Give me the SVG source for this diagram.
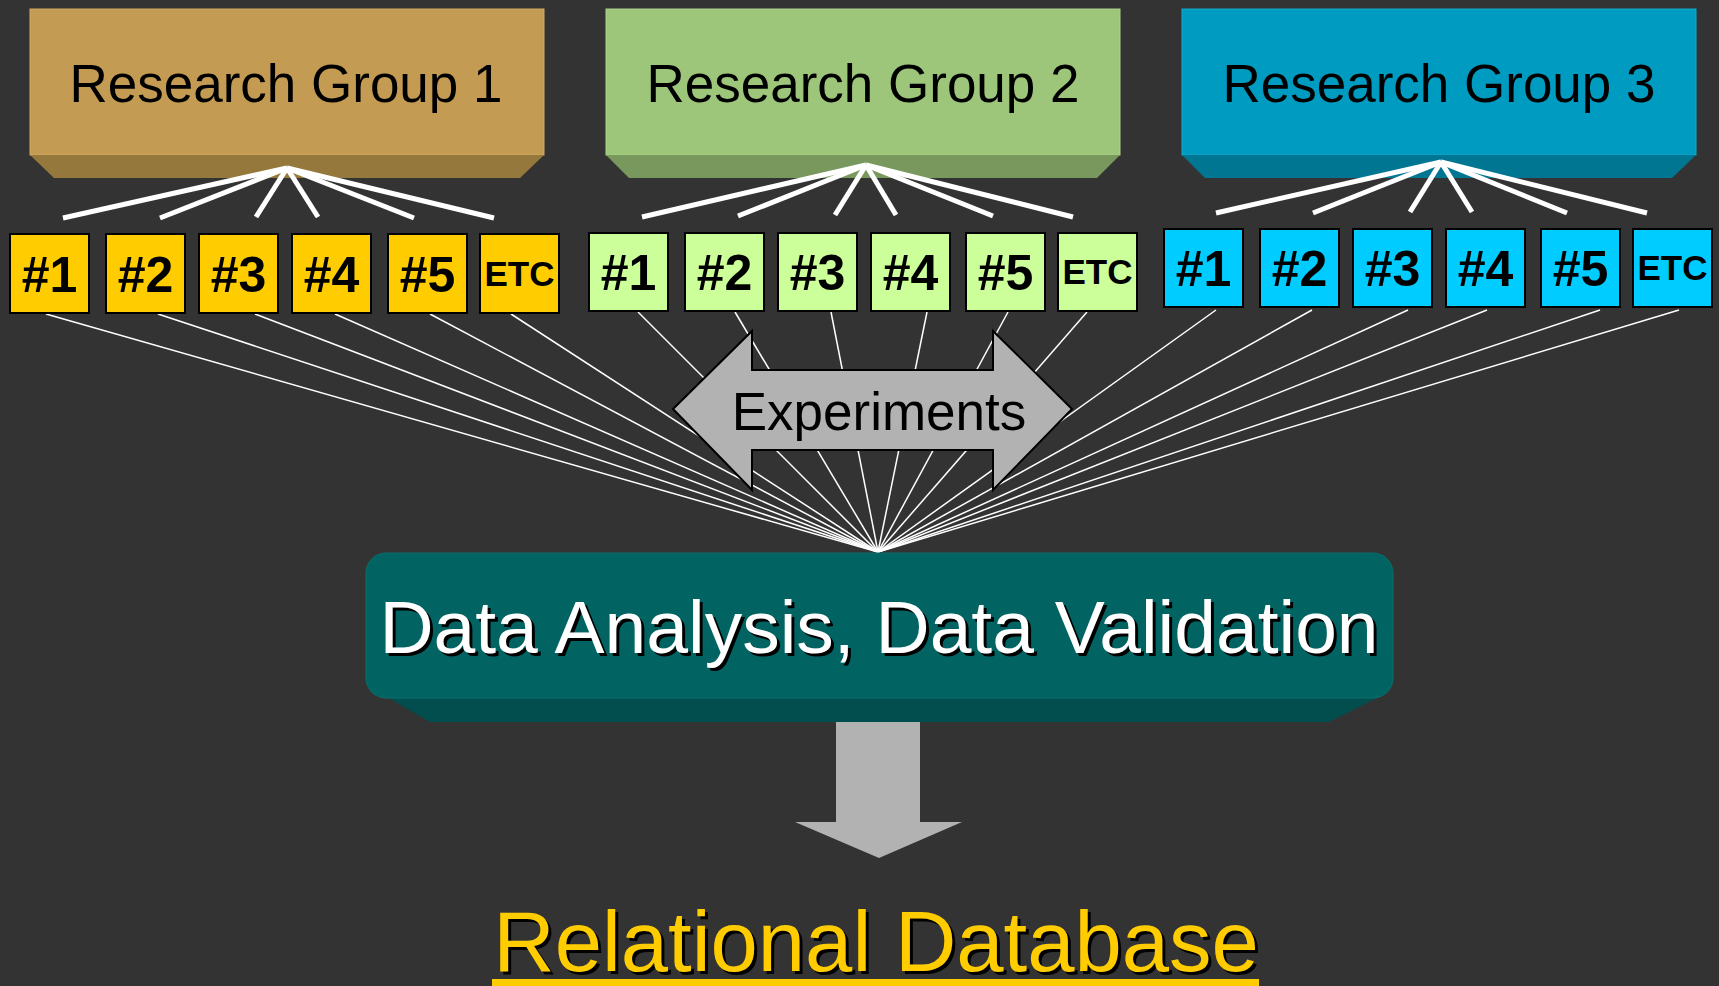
<svg xmlns="http://www.w3.org/2000/svg" width="1719" height="986" viewBox="0 0 1719 986">
<defs>
<style>
text{font-family:"Liberation Sans",Arial,sans-serif;}
.rgt{font-size:53px;fill:#000;text-anchor:middle;}
.num{font-size:50px;font-weight:bold;fill:#000;text-anchor:middle;}
.etc{font-size:35px;font-weight:bold;fill:#000;text-anchor:middle;}
.sb{stroke:#000;stroke-width:2;}
.y{fill:#FFCC00;}
.g{fill:#CCFF99;}
.c{fill:#00CCFF;}
.thick line{stroke:#fff;stroke-width:5;}
.thin line{stroke:#fff;stroke-width:1.5;}
.grey{fill:#B2B2B2;}
</style>
</defs>
<rect x="0" y="0" width="1719" height="986" fill="#333333"/>

<g id="connectors">
<g class="thin">
<line x1="46" y1="314" x2="878" y2="552"/>
<line x1="158" y1="314" x2="878" y2="552"/>
<line x1="255" y1="314" x2="878" y2="552"/>
<line x1="335" y1="314" x2="878" y2="552"/>
<line x1="430" y1="314" x2="878" y2="552"/>
<line x1="511" y1="314" x2="878" y2="552"/>
<line x1="638" y1="312" x2="878" y2="552"/>
<line x1="735" y1="312" x2="878" y2="552"/>
<line x1="831" y1="312" x2="878" y2="552"/>
<line x1="927" y1="312" x2="878" y2="552"/>
<line x1="1008" y1="312" x2="878" y2="552"/>
<line x1="1087" y1="312" x2="878" y2="552"/>
<line x1="1216" y1="310" x2="878" y2="552"/>
<line x1="1312" y1="310" x2="878" y2="552"/>
<line x1="1408" y1="310" x2="878" y2="552"/>
<line x1="1487" y1="310" x2="878" y2="552"/>
<line x1="1600" y1="310" x2="878" y2="552"/>
<line x1="1679" y1="310" x2="878" y2="552"/>
</g>
</g>

<g id="rg1">
<rect x="30" y="9" width="514" height="146" fill="#C49B52" stroke="#D2AA62" stroke-width="1"/>
<polygon points="30,155 544,155 520,178 54,178" fill="#95783C"/>
<text class="rgt" x="286" y="102">Research Group 1</text>
</g>
<g id="rg2">
<rect x="606" y="9" width="514" height="146" fill="#9DC67B" stroke="#ABD289" stroke-width="1"/>
<polygon points="606,155 1120,155 1097,178 629,178" fill="#79985D"/>
<text class="rgt" x="863" y="102">Research Group 2</text>
</g>
<g id="rg3">
<rect x="1182" y="9" width="514" height="146" fill="#009BC1" stroke="#12AACF" stroke-width="1"/>
<polygon points="1182,155 1696,155 1672,178 1205,178" fill="#007692"/>
<text class="rgt" x="1439" y="102">Research Group 3</text>
</g>

<g id="fan-lines" class="thick">
<line x1="287" y1="168" x2="63" y2="218"/>
<line x1="287" y1="168" x2="160" y2="218"/>
<line x1="287" y1="168" x2="256" y2="217"/>
<line x1="287" y1="168" x2="318" y2="217"/>
<line x1="287" y1="168" x2="414" y2="218"/>
<line x1="287" y1="168" x2="494" y2="218"/>
<line x1="866" y1="165" x2="642" y2="217"/>
<line x1="866" y1="165" x2="738" y2="216"/>
<line x1="866" y1="165" x2="835" y2="215"/>
<line x1="866" y1="165" x2="896" y2="215"/>
<line x1="866" y1="165" x2="993" y2="216"/>
<line x1="866" y1="165" x2="1073" y2="217"/>
<line x1="1441" y1="162" x2="1216" y2="213"/>
<line x1="1441" y1="162" x2="1313" y2="213"/>
<line x1="1441" y1="162" x2="1410" y2="212"/>
<line x1="1441" y1="162" x2="1472" y2="212"/>
<line x1="1441" y1="162" x2="1567" y2="213"/>
<line x1="1441" y1="162" x2="1647" y2="213"/>
</g>

<g id="g1-exp1"><rect class="sb y" x="10" y="234" width="79" height="79"/><text class="num" x="49.5" y="292">#1</text></g>
<g id="g1-exp2"><rect class="sb y" x="106" y="234" width="79" height="79"/><text class="num" x="145.5" y="292">#2</text></g>
<g id="g1-exp3"><rect class="sb y" x="199" y="234" width="79" height="79"/><text class="num" x="238.5" y="292">#3</text></g>
<g id="g1-exp4"><rect class="sb y" x="292" y="234" width="79" height="79"/><text class="num" x="331.5" y="292">#4</text></g>
<g id="g1-exp5"><rect class="sb y" x="388" y="234" width="79" height="79"/><text class="num" x="427.5" y="292">#5</text></g>
<g id="g1-etc"><rect class="sb y" x="480" y="234" width="79" height="79"/><text class="etc" x="519.5" y="286">ETC</text></g>

<g id="g2-exp1"><rect class="sb g" x="589" y="233" width="79" height="78"/><text class="num" x="628.5" y="290">#1</text></g>
<g id="g2-exp2"><rect class="sb g" x="685" y="233" width="79" height="78"/><text class="num" x="724.5" y="290">#2</text></g>
<g id="g2-exp3"><rect class="sb g" x="778" y="233" width="79" height="78"/><text class="num" x="817.5" y="290">#3</text></g>
<g id="g2-exp4"><rect class="sb g" x="871" y="233" width="79" height="78"/><text class="num" x="910.5" y="290">#4</text></g>
<g id="g2-exp5"><rect class="sb g" x="966" y="233" width="79" height="78"/><text class="num" x="1005.5" y="290">#5</text></g>
<g id="g2-etc"><rect class="sb g" x="1058" y="233" width="79" height="78"/><text class="etc" x="1097.5" y="284">ETC</text></g>

<g id="g3-exp1"><rect class="sb c" x="1164" y="229" width="79" height="78"/><text class="num" x="1203.5" y="286">#1</text></g>
<g id="g3-exp2"><rect class="sb c" x="1260" y="229" width="79" height="78"/><text class="num" x="1299.5" y="286">#2</text></g>
<g id="g3-exp3"><rect class="sb c" x="1353" y="229" width="79" height="78"/><text class="num" x="1392.5" y="286">#3</text></g>
<g id="g3-exp4"><rect class="sb c" x="1446" y="229" width="79" height="78"/><text class="num" x="1485.5" y="286">#4</text></g>
<g id="g3-exp5"><rect class="sb c" x="1541" y="229" width="79" height="78"/><text class="num" x="1580.5" y="286">#5</text></g>
<g id="g3-etc"><rect class="sb c" x="1633" y="229" width="79" height="78"/><text class="etc" x="1672.5" y="280">ETC</text></g>

<g id="experiments">
<polygon class="grey" points="673,409 752,331 752,370 993,370 993,331 1072,409 993,490 993,450 752,450 752,490" stroke="#000" stroke-width="2" stroke-linejoin="miter"/>
<text x="879" y="430" font-size="53" text-anchor="middle" fill="#000">Experiments</text>
</g>

<g id="data-analysis">
<polygon points="385,696 1381,696 1329,722 430,722" fill="#024D4D"/>
<rect x="366" y="553" width="1027" height="145" rx="20" ry="20" fill="#026462" stroke="#0A6E6C" stroke-width="1"/>
<text x="882" y="656" font-size="75" text-anchor="middle" fill="#000">Data Analysis, Data Validation</text>
<text x="879" y="653" font-size="75" text-anchor="middle" fill="#fff">Data Analysis, Data Validation</text>
</g>

<g id="down-arrow">
<polygon class="grey" points="836,722 920,722 920,822 962,822 879,858 795,822 836,822"/>
</g>

<g id="relational-database">
<text x="879" y="974" font-size="85" text-anchor="middle" fill="#000">Relational Database</text>
<text x="876" y="971" font-size="85" text-anchor="middle" fill="#FFCC00">Relational Database</text>
<rect x="492" y="979" width="767" height="10" fill="#FFCC00"/>
</g>
</svg>
